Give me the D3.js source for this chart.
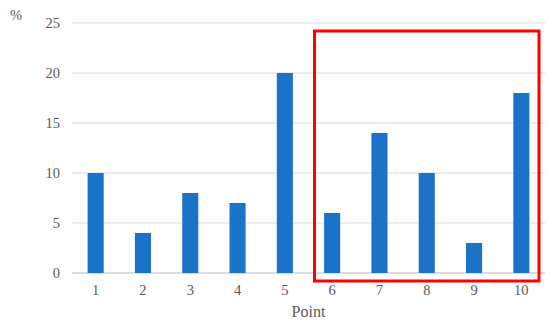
<!DOCTYPE html>
<html>
<head>
<meta charset="utf-8">
<script src="https://cdn.jsdelivr.net/npm/d3@7"></script>
<style>
  body { margin: 0; background: #fff; }
  text { font-family: "Liberation Serif", "Times New Roman", serif; fill: #595959; }
</style>
</head>
<body>
<div class="chart"></div>
<script>
var points = ["1", "2", "3", "4", "5", "6", "7", "8", "9", "10"];
var values = [10, 4, 8, 7, 20, 6, 14, 10, 3, 18];
var yTicks = [0, 5, 10, 15, 20, 25];
var highlight = ["6", "10"];

var svgWidth = 550;
var svgHeight = 325;
var margin = { top: 23, right: 5, bottom: 52, left: 72 };
var width = svgWidth - margin.left - margin.right;
var height = svgHeight - margin.top - margin.bottom;

var svg = d3.select(".chart")
    .append("svg")
    .attr("width", svgWidth)
    .attr("height", svgHeight);

var chartGroup = svg.append("g")
    .attr("transform", `translate(${margin.left}, ${margin.top})`);

var x = d3.scaleBand()
    .domain(points)
    .range([0, width])
    .paddingInner(0.66)
    .paddingOuter(0.33);

var y = d3.scaleLinear()
    .domain([0, 25])
    .range([height, 0]);

// gridlines
chartGroup.selectAll(".grid")
    .data(yTicks)
    .enter()
    .append("line")
    .attr("x1", 0)
    .attr("x2", width)
    .attr("y1", d => y(d))
    .attr("y2", d => y(d))
    .attr("stroke", d => d === 0 ? "#d0d0d0" : "#d9d9d9")
    .attr("stroke-width", d => d === 0 ? 1.5 : 1);

// y labels
chartGroup.selectAll(".ylab")
    .data(yTicks)
    .enter()
    .append("text")
    .attr("x", -12)
    .attr("y", d => y(d))
    .attr("dy", "0.35em")
    .attr("text-anchor", "end")
    .style("font-size", "14.5px")
    .text(d => d);

// bars
chartGroup.selectAll("rect.bar")
    .data(values)
    .enter()
    .append("rect")
    .attr("class", "bar")
    .attr("x", (d, i) => x(points[i]))
    .attr("y", d => y(d))
    .attr("width", x.bandwidth())
    .attr("height", d => height - y(d))
    .attr("fill", "#1a73c8");

// x labels
chartGroup.selectAll(".xlab")
    .data(points)
    .enter()
    .append("text")
    .attr("x", d => x(d) + x.bandwidth() / 2)
    .attr("y", height + 17)
    .attr("dy", "0.35em")
    .attr("text-anchor", "middle")
    .style("font-size", "14.5px")
    .text(d => d);

// axis titles
chartGroup.append("text")
    .attr("x", width / 2)
    .attr("y", height + 38)
    .attr("dy", "0.35em")
    .attr("text-anchor", "middle")
    .style("font-size", "16px")
    .text("Point");

svg.append("text")
    .attr("x", 16)
    .attr("y", 20)
    .attr("text-anchor", "middle")
    .style("font-size", "14.5px")
    .text("%");

// red highlight box
var step = x.step();
var boxLeft = x(highlight[0]) - step * 0.33 + 6;
var boxRight = x(highlight[1]) + x.bandwidth() + step * 0.33 - 6;
chartGroup.append("rect")
    .attr("x", boxLeft)
    .attr("y", y(24.2))
    .attr("width", boxRight - boxLeft)
    .attr("height", y(-0.8) - y(24.2))
    .attr("fill", "none")
    .attr("stroke", "#ff0000")
    .attr("stroke-width", 3);
</script>
</body>
</html>
